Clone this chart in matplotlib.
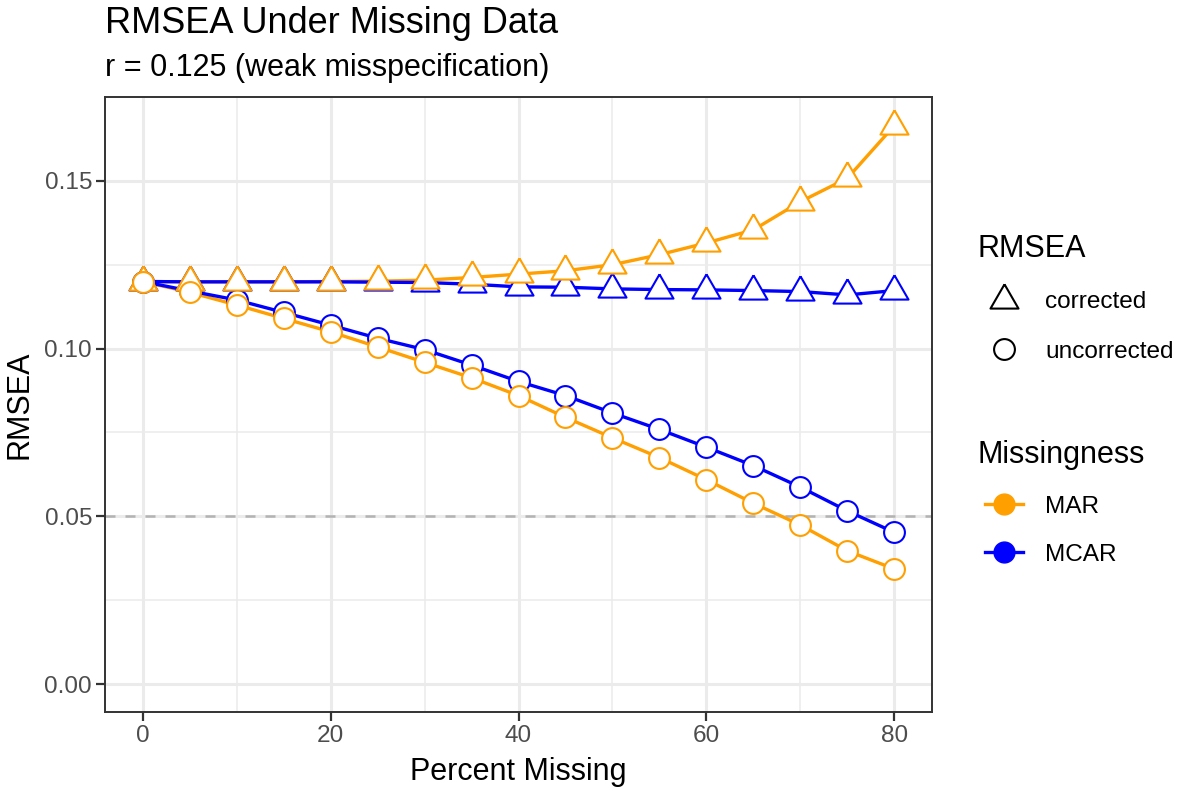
import numpy as np
import matplotlib
matplotlib.use("Agg")
from matplotlib import pyplot as plt
from matplotlib.lines import Line2D
from matplotlib.legend_handler import HandlerLine2D

plt.rcParams['font.family'] = ['Liberation Sans', 'DejaVu Sans']

pct = [0, 5, 10, 15, 20, 25, 30, 35, 40, 45, 50, 55, 60, 65, 70, 75, 80]

mar_corr = [0.1200, 0.1199, 0.1199, 0.1199, 0.1200, 0.1201, 0.1204, 0.1212, 0.1222,
            0.1232, 0.1250, 0.1280, 0.1315, 0.1354, 0.1438, 0.1508, 0.1665]
mcar_corr = [0.1200, 0.1199, 0.1199, 0.1199, 0.1199, 0.1198, 0.1197, 0.1192, 0.1184,
             0.1183, 0.1178, 0.1176, 0.1175, 0.1173, 0.1170, 0.1160, 0.1173]
mar_unc = [0.1200, 0.1168, 0.1130, 0.1090, 0.1050, 0.1005, 0.0959, 0.0913, 0.0860,
           0.0795, 0.0734, 0.0675, 0.0609, 0.0539, 0.0474, 0.0397, 0.0343]
mcar_unc = [0.1200, 0.1172, 0.1145, 0.1108, 0.1070, 0.1031, 0.0997, 0.0951, 0.0902,
            0.0860, 0.0808, 0.0759, 0.0706, 0.0651, 0.0587, 0.0516, 0.0452]

ORANGE = '#FF9F00'
BLUE = '#0000FF'

# R-style equilateral triangle (pch 2), centred on its centroid
tri = [(0, 1.155), (-1, -0.577), (1, -0.577), (0, 1.155)]
TRI_MS = 23.3
CIR_MS = 15


class ShortLine(HandlerLine2D):
    # legend key line shorter than the key box, like ggplot
    def get_xdata(self, legend, xdescent, ydescent, width, height, fontsize):
        xd, xm = super().get_xdata(legend, xdescent, ydescent, width, height, fontsize)
        c = -xdescent + 0.5 * width
        return np.array([c - 14, c + 14]), xm


fig = plt.figure(figsize=(11.81, 7.91), dpi=100)
ax = fig.add_axes([105/1181, 1-712/791, (932-105)/1181, (712-97)/791])

ax.set_xlim(-4, 84)
ax.set_ylim(-0.00833, 0.175)
ax.set_xticks([0, 20, 40, 60, 80])
ax.set_xticks([10, 30, 50, 70], minor=True)
ax.set_yticks([0, 0.05, 0.10, 0.15])
ax.set_yticklabels(['0.00', '0.05', '0.10', '0.15'])
ax.set_yticks([0.025, 0.075, 0.125], minor=True)
ax.grid(which='major', color='#EBEBEB', lw=2.2, zorder=0)
ax.grid(which='minor', color='#EBEBEB', lw=1.1, zorder=0)
ax.set_axisbelow(True)
ax.tick_params(which='major', length=6.3, width=1.6, color='#333333',
               labelsize=17.6, labelcolor='#4D4D4D', pad=3)
ax.tick_params(which='minor', length=0)
for s in ax.spines.values():
    s.set_color('#333333')
    s.set_linewidth(1.4)

ax.axhline(0.05, color='#B3B3B3', lw=1.8, ls=(0, (4, 4)), zorder=1.5)

series = [
    (mar_corr, ORANGE, tri, TRI_MS, 2.0, 3.1),
    (mcar_corr, BLUE, tri, TRI_MS, 2.1, 3.0),
    (mar_unc, ORANGE, 'o', CIR_MS, 2.0, 3.1),
    (mcar_unc, BLUE, 'o', CIR_MS, 2.1, 3.0),
]
for y, c, m, ms, zl, zp in series:
    ax.plot(pct, y, color=c, lw=2.4, zorder=zl, solid_capstyle='butt')
    ax.plot(pct, y, ls='none', marker=m, ms=ms, mfc='white', mec=c, mew=1.5, zorder=zp)

ax.set_xlabel('Percent Missing', fontsize=22, labelpad=7)
ax.set_ylabel('RMSEA', fontsize=22, labelpad=7)

fig.text(105/1181, 1-33/791, 'RMSEA Under Missing Data', fontsize=26, va='baseline')
fig.text(105/1181, 1-76/791, 'r = 0.125 (weak misspecification)', fontsize=22, va='baseline')

h1 = [Line2D([], [], ls='none', marker=tri, ms=TRI_MS, mfc='white', mec='black', mew=1.5),
      Line2D([], [], ls='none', marker='o', ms=CIR_MS, mfc='white', mec='black', mew=1.5)]
leg1 = fig.legend(h1, ['corrected', 'uncorrected'], title='RMSEA',
                  loc='upper left', bbox_to_anchor=(956/1181, 1-212/791),
                  frameon=False, fontsize=17.6, title_fontsize=22,
                  handlelength=2.13, handletextpad=0.61, labelspacing=1.12,
                  alignment='left')
h2 = [Line2D([], [], color=ORANGE, lw=2.4, marker='o', ms=CIR_MS, mfc=ORANGE, mec=ORANGE),
      Line2D([], [], color=BLUE, lw=2.4, marker='o', ms=CIR_MS, mfc=BLUE, mec=BLUE)]
leg2 = fig.legend(h2, ['MAR', 'MCAR'], title='Missingness',
                  loc='upper left', bbox_to_anchor=(956/1181, 1-418/791),
                  frameon=False, fontsize=17.6, title_fontsize=22,
                  handlelength=2.13, handletextpad=0.61, labelspacing=1.05,
                  alignment='left', handler_map={Line2D: ShortLine()})

fig.savefig('out.png', dpi=100)
